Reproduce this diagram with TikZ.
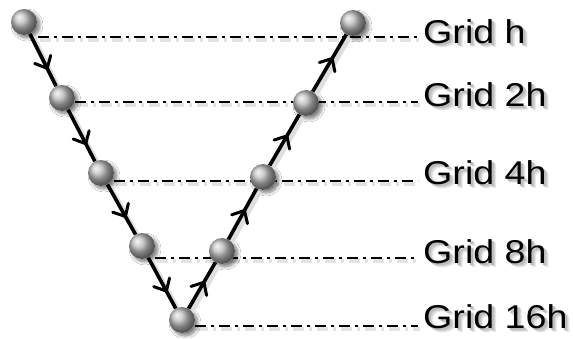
\documentclass[tikz,border=0pt]{standalone}
\usepackage{fontspec}
\setmainfont{Liberation Sans}
\usetikzlibrary{decorations.markings,shadows.blur}
\newcommand\shtext[1]{%
  \makebox[0pt][l]{\kern4pt\raisebox{-4pt}{\textcolor{black!9}{#1}}}%
  \makebox[0pt][l]{\kern3pt\raisebox{-3pt}{\textcolor{black!17}{#1}}}%
  \makebox[0pt][l]{\kern2pt\raisebox{-2pt}{\textcolor{black!26}{#1}}}%
  #1}
\tikzset{
  ballnode/.style={circle, minimum size=26pt, inner sep=0pt, fill=white,
    blur shadow={shadow xshift=3pt, shadow yshift=-3pt, shadow blur steps=8, shadow blur radius=3pt, shadow opacity=50}},
  ballfill/.style={ball color=black!26},
  vline/.style={line width=3.6pt, black, postaction={decorate},
    decoration={markings, mark=at position #1 with {\draw[line width=3pt, line cap=round, line join=miter] (-10pt,9pt) -- (0pt,0pt) -- (-10pt,-9pt);}}},
  vshadow/.style={line width=5pt, black!13, transform canvas={shift={(3pt,-3pt)}}},
  gline/.style={line width=2.6pt, black, dash pattern=on 11pt off 5pt on 3pt off 5pt},
  gshadow/.style={line width=3.4pt, black!11, dash pattern=on 11pt off 5pt on 3pt off 5pt, transform canvas={shift={(2pt,-3pt)}}},
  glabel/.style={anchor=base west, inner sep=0pt, font=\fontsize{33}{33}\selectfont},
}
\begin{document}
\begin{tikzpicture}[x=1pt,y=-1pt]
\fill[white] (0,0) rectangle (573,338);
\useasboundingbox (0,0) rectangle (573,338);
% dash-dot grid lines
\coordinate (s1) at (38,37);  \coordinate (e1) at (418,37);
\coordinate (s2) at (75,102); \coordinate (e2) at (418,102);
\coordinate (s3) at (114,181);\coordinate (e3) at (418,181);
\coordinate (s4) at (155,258);\coordinate (e4) at (418,258);
\coordinate (s5) at (195,326);\coordinate (e5) at (418,326);
\foreach \i in {1,...,5}{
  \draw[gshadow] (s\i) -- (e\i);
  \draw[gline] (s\i) -- (e\i);
}
% spheres (shadow placeholders)
\node[ballnode] (l1) at (24,22) {};
\node[ballnode] (l2) at (62,98) {};
\node[ballnode] (l3) at (101,173) {};
\node[ballnode] (l4) at (142,246) {};
\node[ballnode] (l5) at (182,320) {};
\node[ballnode] (r4) at (222,251) {};
\node[ballnode] (r3) at (263,177) {};
\node[ballnode] (r2) at (306,103) {};
\node[ballnode] (r1) at (353,23) {};
% connectors
\foreach \a/\b/\p in {l1/l2/0.66, l2/l3/0.66, l3/l4/0.64, l4/l5/0.66, l5/r4/0.57, r4/r3/0.57, r3/r2/0.58, r2/r1/0.58}{
  \draw[vshadow] (\a) -- (\b);
  \draw[vline=\p] (\a) -- (\b);
}
% shaded spheres on top
\foreach \n in {l1,l2,l3,l4,l5,r4,r3,r2,r1}{
  \shade[ballfill] (\n.center) circle (13pt);
}
% labels
\node[glabel] (t1) at (423,43)  {\scalebox{1.14}[1]{\shtext{Grid h}}};
\node[glabel] (t2) at (423,106) {\scalebox{1.14}[1]{\shtext{Grid 2h}}};
\node[glabel] (t3) at (423,184) {\scalebox{1.14}[1]{\shtext{Grid 4h}}};
\node[glabel] (t4) at (423,263) {\scalebox{1.14}[1]{\shtext{Grid 8h}}};
\node[glabel] (t5) at (423,328) {\scalebox{1.14}[1]{\shtext{Grid 16h}}};
\end{tikzpicture}
\end{document}
